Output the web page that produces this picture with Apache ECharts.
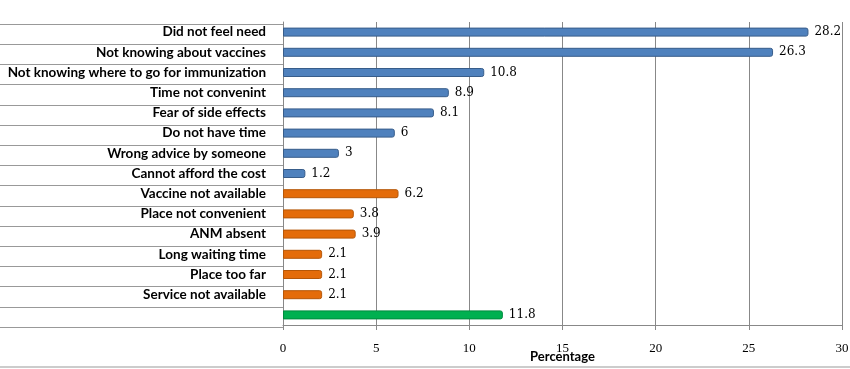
<!DOCTYPE html>
<html><head><meta charset="utf-8">
<script src="https://cdn.jsdelivr.net/npm/echarts@6/dist/echarts.min.js"></script>
<style>html,body{margin:0;padding:0;background:#fff}#c{width:850px;height:369px}</style>
</head><body><div id="c"></div>
<script>
const categories = ["Did not feel need","Not knowing about vaccines","Not knowing where to go for immunization","Time not convenint","Fear of side effects","Do not have time","Wrong advice by someone","Cannot afford the cost","Vaccine not available","Place not convenient","ANM absent","Long waiting time","Place too far","Service not available",""];
const values = [28.2,26.3,10.8,8.9,8.1,6,3,1.2,6.2,3.8,3.9,2.1,2.1,2.1,11.8];
const groups = [0,0,0,0,0,0,0,0,1,1,1,1,1,1,2];
const groupColors = ["#4F81BD","#E46C0A","#00B050"];
const groupBorders = ["#385D8A","#B65708","#008A3E"];
const xTicks = {min:0,max:30,interval:5};

const chart = echarts.init(document.getElementById('c'));
chart.setOption({
  animation:false,
  grid:[
    {left:283,right:8,top:22,height:303,containLabel:false,outerBoundsMode:'none'},
    {left:0,width:283,top:24,height:303,containLabel:false,outerBoundsMode:'none'}
  ],
  graphic:[{type:'line',shape:{x1:0,y1:367,x2:850,y2:367},style:{stroke:'#999',lineWidth:1}}],
  xAxis:[
    {gridIndex:0,type:'value',min:xTicks.min,max:xTicks.max,interval:xTicks.interval,
     axisLine:{show:true,lineStyle:{color:'#888'}},
     axisTick:{show:true,length:5,lineStyle:{color:'#888'}},
     axisLabel:{color:'#000',fontFamily:'Liberation Serif',fontSize:13,margin:17},
     splitLine:{show:true,lineStyle:{color:'#888',width:1}},
     name:'Percentage',nameLocation:'middle',nameGap:25,nameMoveOverlap:false,
     nameTextStyle:{fontFamily:'Lato',fontWeight:'bold',fontSize:13,color:'#000'}},
    {gridIndex:1,type:'value',show:false}
  ],
  yAxis:[
    {gridIndex:0,type:'category',data:categories,inverse:true,
     axisLine:{show:true,lineStyle:{color:'#888'}},axisTick:{show:false},
     axisLabel:{color:'#000',fontFamily:'Lato',fontWeight:'bold',fontSize:13.5,margin:17},
     splitLine:{show:false}},
    {gridIndex:1,type:'category',data:categories,inverse:true,
     axisLine:{show:false},axisTick:{show:false},axisLabel:{show:false},
     splitLine:{show:true,lineStyle:{color:'#999',width:1}}}
  ],
  series:[{
    type:'bar',xAxisIndex:0,yAxisIndex:0,barWidth:9,
    data:values.map((v,i)=>({value:v,itemStyle:{color:groupColors[groups[i]],borderColor:groupBorders[groups[i]]}})),
    itemStyle:{borderWidth:1,borderRadius:[0,2,2,0]},
    label:{show:true,position:'right',distance:6,color:'#000',fontFamily:'DejaVu Serif',fontSize:12}
  }]
});
</script></body></html>
